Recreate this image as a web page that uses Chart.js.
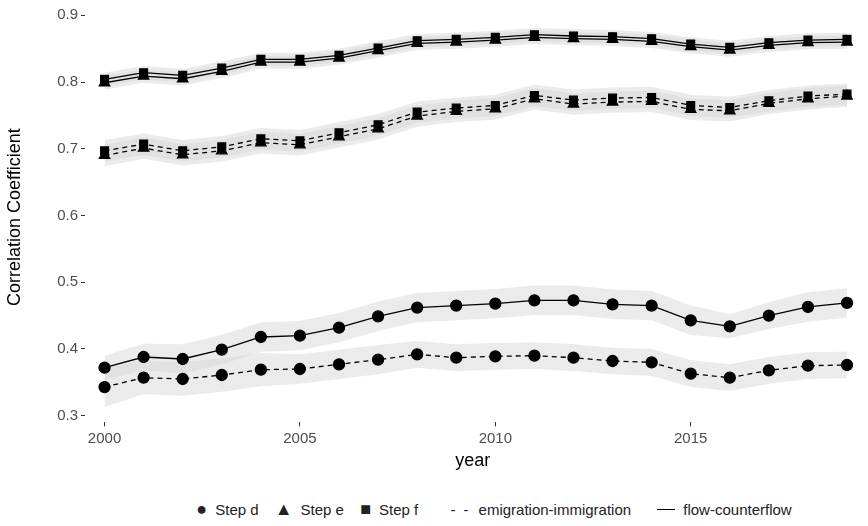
<!DOCTYPE html><html><head><meta charset="utf-8">
<script src="https://cdn.jsdelivr.net/npm/chart.js@4.4.0/dist/chart.umd.min.js"></script>
<style>body{margin:0;background:#fff;font-family:"Liberation Sans",Arial,sans-serif}
#w{position:relative;width:868px;height:526px}
#lg{position:absolute;left:0;top:499px;width:868px;text-align:center;font-size:15px;color:#222;white-space:nowrap}
#lg span{display:inline-block;vertical-align:middle}
</style></head><body><div id="w"><canvas id="c" width="868" height="476"></canvas>
<div id="lg">
<span style="margin-left:120px;font-size:18px">●</span><span style="margin:0 12px 0 8px">Step d</span>
<span style="font-size:18px">▲</span><span style="margin:0 12px 0 8px">Step e</span>
<span style="font-size:18px">■</span><span style="margin:0 28px 0 8px">Step f</span>
<span style="letter-spacing:2px">- -</span><span style="margin:0 22px 0 8px">emigration-immigration</span>
<span style="display:inline-block;width:18px;border-top:1.5px solid #000"></span><span style="margin-left:8px">flow-counterflow</span>
</div></div>
<script>
const years=[2000,2001,2002,2003,2004,2005,2006,2007,2008,2009,2010,2011,2012,2013,2014,2015,2016,2017,2018,2019];
const dFlow=[0.372,0.388,0.385,0.399,0.418,0.420,0.432,0.449,0.462,0.465,0.468,0.473,0.473,0.467,0.465,0.443,0.434,0.450,0.463,0.469];
const dEmig=[0.343,0.357,0.355,0.361,0.369,0.370,0.377,0.384,0.392,0.387,0.389,0.390,0.387,0.382,0.380,0.363,0.357,0.368,0.375,0.376];
const fFlow=[0.804,0.814,0.810,0.821,0.834,0.834,0.840,0.851,0.862,0.864,0.867,0.871,0.869,0.868,0.865,0.857,0.852,0.859,0.863,0.864];
const eFlow=[0.799,0.809,0.805,0.816,0.830,0.830,0.836,0.847,0.858,0.860,0.863,0.867,0.865,0.864,0.861,0.853,0.848,0.855,0.859,0.860];
const fEmig=[0.697,0.707,0.697,0.703,0.715,0.712,0.724,0.736,0.755,0.761,0.765,0.780,0.773,0.776,0.777,0.765,0.762,0.772,0.779,0.782];
const eEmig=[0.690,0.701,0.691,0.697,0.709,0.706,0.718,0.730,0.749,0.756,0.760,0.775,0.767,0.770,0.771,0.759,0.757,0.768,0.775,0.779];
const dFlowHalf=[0.018,0.02,0.022,0.022,0.022,0.022,0.022,0.022,0.022,0.022,0.022,0.022,0.022,0.022,0.022,0.022,0.018,0.02,0.022,0.022];
const dEmigHalf=[0.03,0.025,0.025,0.025,0.025,0.022,0.022,0.022,0.02,0.02,0.02,0.02,0.02,0.02,0.02,0.02,0.02,0.02,0.02,0.02];
const topFlowHalf=0.01, topEmigHalf=0.016;
const yTicks=[0.3,0.4,0.5,0.6,0.7,0.8,0.9];
const xTicks=[2000,2005,2010,2015];
const pts=a=>a.map((v,i)=>({x:years[i],y:v}));
const band='rgba(215,215,215,0.5)';
function ribbon(vals,half){const h=i=>Array.isArray(half)?half[i]:half;return [
 {data:vals.map((v,i)=>({x:years[i],y:v-h(i)})),borderWidth:0,pointRadius:0,fill:false,order:10,clip:false},
 {data:vals.map((v,i)=>({x:years[i],y:v+h(i)})),borderWidth:0,pointRadius:0,fill:'-1',backgroundColor:band,order:10,clip:false}];}
function line(vals,style,dash){return {data:pts(vals),borderColor:'#000',borderWidth:1.3,borderDash:dash?[5,4]:[],pointStyle:style,pointRadius:style==='triangle'?6:5.5,pointBackgroundColor:'#000',pointBorderColor:'#000',fill:false,order:0,clip:false};}
const ds=[...ribbon(dFlow,dFlowHalf),...ribbon(dEmig,dEmigHalf),...ribbon(fFlow,topFlowHalf),...ribbon(eFlow,topFlowHalf),...ribbon(fEmig,topEmigHalf),...ribbon(eEmig,topEmigHalf),
 line(dFlow,'circle',false),line(dEmig,'circle',true),line(eFlow,'triangle',false),line(fFlow,'rect',false),line(eEmig,'triangle',true),line(fEmig,'rect',true)];
const tc='#4d4d4d';
new Chart(document.getElementById('c'),{type:'line',data:{datasets:ds},options:{responsive:false,animation:false,
 layout:{padding:{top:7,right:0,bottom:0,left:0}},
 plugins:{legend:{display:false},tooltip:{enabled:false}},
 scales:{x:{type:'linear',min:1999.5,max:2019.35,afterBuildTicks:a=>{a.ticks=xTicks.map(v=>({value:v}));},
   grid:{display:true,drawOnChartArea:false,drawTicks:true,tickLength:4,tickColor:'#333'},border:{display:false},
   ticks:{color:tc,font:{size:15},padding:3,callback:v=>v},title:{display:true,text:'year',color:'#000',font:{size:18},padding:{top:0}}},
  y:{min:0.29,max:0.905,afterBuildTicks:a=>{a.ticks=yTicks.map(v=>({value:v}));},afterFit:s=>{s.width=85;},
   grid:{display:true,drawOnChartArea:false,drawTicks:true,tickLength:4,tickColor:'#333'},border:{display:false},
   ticks:{color:tc,font:{size:15},padding:3,callback:v=>v.toFixed(1)},title:{display:true,text:'Correlation Coefficient',color:'#000',font:{size:18},padding:{bottom:4}}}}}});
</script></body></html>
